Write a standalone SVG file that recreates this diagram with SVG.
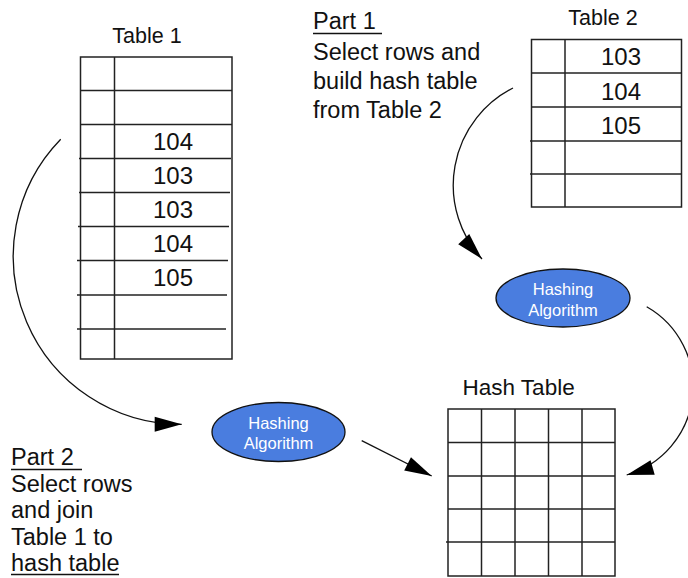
<svg xmlns="http://www.w3.org/2000/svg" width="688" height="578" viewBox="0 0 688 578">
  <style>
    text { font-family: "Liberation Sans", Arial, sans-serif; fill: #111; }
    .grid { fill: none; stroke: #222; stroke-width: 1.5; }
    .label { font-size: 21.5px; text-anchor: middle; }
    .num { font-size: 24px; text-anchor: middle; }
    .note { font-size: 23.5px; }
    .uline { stroke: #111; stroke-width: 1.5; }
    .algo { fill: #4a7ddf; stroke: #111; stroke-width: 1.3; }
    .algo-text { font-size: 16.5px; text-anchor: middle; fill: #fff; }
    .flow { fill: none; stroke: #111; stroke-width: 1.3; }
  </style>
  <defs>
    <marker id="head" markerUnits="userSpaceOnUse" markerWidth="28" markerHeight="16" refX="27" refY="7.5" orient="auto" overflow="visible">
      <path d="M0,0 L27,7.5 L0,15 Z" fill="#000"/>
    </marker>
  </defs>

  <rect width="688" height="578" fill="#fff"/>

  <!-- Table 1 -->
  <g id="table1">
    <text class="label" x="147" y="43">Table 1</text>
    <rect class="grid" x="80.5" y="57" width="151.5" height="302"/>
    <line class="grid" x1="114.5" y1="57" x2="114.5" y2="359"/>
    <line class="grid" x1="80.5" y1="90.5" x2="232" y2="90.5"/>
    <line class="grid" x1="80.5" y1="124.5" x2="232" y2="124.5"/>
    <line class="grid" x1="79" y1="158.5" x2="231" y2="158.5"/>
    <line class="grid" x1="79" y1="192.5" x2="230" y2="192.5"/>
    <line class="grid" x1="78" y1="226.5" x2="229" y2="226.5"/>
    <line class="grid" x1="77" y1="260.5" x2="228" y2="260.5"/>
    <line class="grid" x1="77" y1="295" x2="227" y2="295"/>
    <line class="grid" x1="77" y1="329" x2="226" y2="329"/>
    <text class="num" x="173" y="149.5">104</text>
    <text class="num" x="173" y="183.5">103</text>
    <text class="num" x="173" y="217.5">103</text>
    <text class="num" x="173" y="251.5">104</text>
    <text class="num" x="173" y="286">105</text>
  </g>

  <!-- Table 2 -->
  <g id="table2">
    <text class="label" x="603" y="25">Table 2</text>
    <rect class="grid" x="531.5" y="39.5" width="150" height="167.5"/>
    <line class="grid" x1="565" y1="39.5" x2="565" y2="207"/>
    <line class="grid" x1="531.5" y1="73" x2="681.5" y2="73"/>
    <line class="grid" x1="531" y1="107" x2="681.5" y2="107"/>
    <line class="grid" x1="530" y1="141" x2="681.5" y2="141"/>
    <line class="grid" x1="530" y1="174" x2="681.5" y2="174"/>
    <text class="num" x="621" y="65">103</text>
    <text class="num" x="621" y="99.5">104</text>
    <text class="num" x="621" y="133.5">105</text>
  </g>

  <!-- Part 1 note -->
  <g id="part1">
    <text class="note" x="313" y="29">Part 1</text>
    <line class="uline" x1="313" y1="33.5" x2="382" y2="33.5"/>
    <text class="note" x="313" y="60">Select rows and</text>
    <text class="note" x="313" y="89">build hash table</text>
    <text class="note" x="313" y="118">from Table 2</text>
  </g>

  <!-- Hashing algorithm (build) -->
  <g id="hash-build">
    <ellipse class="algo" cx="563" cy="298" rx="67" ry="29"/>
    <text class="algo-text" x="563" y="295">Hashing</text>
    <text class="algo-text" x="563" y="316">Algorithm</text>
  </g>

  <!-- Hashing algorithm (probe) -->
  <g id="hash-probe">
    <ellipse class="algo" cx="278.5" cy="432" rx="66.5" ry="29.5"/>
    <text class="algo-text" x="278.5" y="428.5">Hashing</text>
    <text class="algo-text" x="278.5" y="449">Algorithm</text>
  </g>

  <!-- Hash table -->
  <g id="hashtable">
    <text x="462.5" y="395" style="font-size:22.5px">Hash Table</text>
    <rect class="grid" x="448" y="409" width="167" height="167"/>
    <line class="grid" x1="481.5" y1="409" x2="481.5" y2="576"/>
    <line class="grid" x1="515" y1="409" x2="515" y2="576"/>
    <line class="grid" x1="548.5" y1="409" x2="548.5" y2="576"/>
    <line class="grid" x1="582" y1="409" x2="582" y2="576"/>
    <line class="grid" x1="448" y1="442.5" x2="615" y2="442.5"/>
    <line class="grid" x1="448" y1="476" x2="615" y2="476"/>
    <line class="grid" x1="448" y1="509" x2="615" y2="509"/>
    <line class="grid" x1="446" y1="542" x2="615" y2="542"/>
  </g>

  <!-- Part 2 note -->
  <g id="part2">
    <text class="note" x="11" y="465">Part 2</text>
    <line class="uline" x1="11" y1="469.5" x2="82" y2="469.5"/>
    <text class="note" x="11" y="491.5">Select rows</text>
    <text class="note" x="11" y="518">and join</text>
    <text class="note" x="11" y="545">Table 1 to</text>
    <text class="note" x="11" y="570.5">hash table</text>
    <line class="uline" x1="11" y1="574.5" x2="119" y2="574.5"/>
  </g>

  <!-- Connectors -->
  <g id="connectors">
    <path class="flow" d="M513,88 A109,109 0 0,0 482,259" marker-end="url(#head)"/>
    <path class="flow" d="M646.7,306.7 A92,92 0 0,1 626.7,475" marker-end="url(#head)"/>
    <path class="flow" d="M60.7,139.3 A168,168 0 0,0 181.7,424.3" marker-end="url(#head)"/>
    <path class="flow" d="M361.7,440.7 L431.7,476" marker-end="url(#head)"/>
  </g>
</svg>
